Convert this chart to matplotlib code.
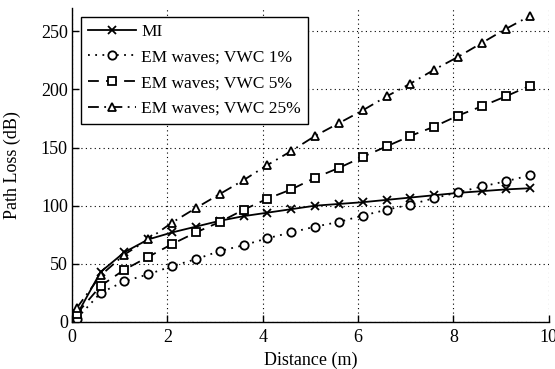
import matplotlib
matplotlib.use("Agg")
import matplotlib.pyplot as plt

plt.rcParams['font.family'] = ['Liberation Serif', 'DejaVu Serif']

distance = [0.1, 0.6, 1.1, 1.6, 2.1, 2.6, 3.1, 3.6, 4.1, 4.6,
            5.1, 5.6, 6.1, 6.6, 7.1, 7.6, 8.1, 8.6, 9.1, 9.6]
mi = [6, 43, 60, 71, 77, 82, 87, 91, 94, 97,
      100, 101.5, 103, 105, 107, 109, 111, 112.5, 114, 115]
vwc1 = [3, 25, 35, 41, 48, 54, 61, 66, 72, 77,
        82, 86, 91.5, 96.5, 101, 106.5, 111.5, 116.5, 121, 126]
vwc5 = [7, 31, 45, 56, 67, 77, 86, 96.5, 106, 114,
        124, 132.5, 142, 151, 160, 168, 177.5, 185.5, 194, 203]
vwc25 = [12, 40, 58, 71, 85.5, 98, 110, 122, 135, 147,
         160, 171, 182, 194, 205, 217, 228, 240, 252, 263]

labels = ['MI', 'EM waves; VWC 1%', 'EM waves; VWC 5%', 'EM waves; VWC 25%']

fig = plt.figure(figsize=(5.55, 3.69), dpi=100)
ax = fig.add_axes([0.1297, 0.1274, 0.859, 0.851])

common = dict(color='black', lw=1.3, markersize=6, markeredgewidth=1.3,
              markerfacecolor='white', markeredgecolor='black')
ax.plot(distance, mi, linestyle='-', marker='x', label=labels[0], **common)
ax.plot(distance, vwc1, linestyle=(0, (1, 3)), marker='o', label=labels[1], **common)
ax.plot(distance, vwc5, linestyle=(0, (6, 4)), marker='s', label=labels[2], **common)
ax.plot(distance, vwc25, linestyle=(0, (6, 3, 1, 3)), marker='^', label=labels[3], **common)

ax.set_xlim(0, 10)
ax.set_ylim(0, 270)
ax.set_xticks([0, 2, 4, 6, 8, 10])
ax.set_yticks([0, 50, 100, 150, 200, 250])
ax.grid(True, color='black', linestyle=(0, (1, 3)), linewidth=0.8)
ax.spines['top'].set_visible(False)
ax.spines['right'].set_visible(False)
for s in ('left', 'bottom'):
    ax.spines[s].set_linewidth(1.0)
ax.tick_params(direction='in', length=5, width=1.0, labelsize=13)
ax.tick_params(axis='y', pad=3)
ax.tick_params(axis='x', pad=5)

ax.set_xlabel('Distance (m)', fontsize=13, labelpad=4)
ax.set_ylabel('Path Loss (dB)', fontsize=13, labelpad=14)

leg = ax.legend(loc='upper left', fontsize=12.5, frameon=True, fancybox=False,
                edgecolor='black', framealpha=1, handlelength=2.8,
                borderaxespad=0.5, labelspacing=0.55, borderpad=0.4,
                handletextpad=0.3)
leg.get_frame().set_linewidth(1.0)

fig.savefig('out.png', dpi=100)
